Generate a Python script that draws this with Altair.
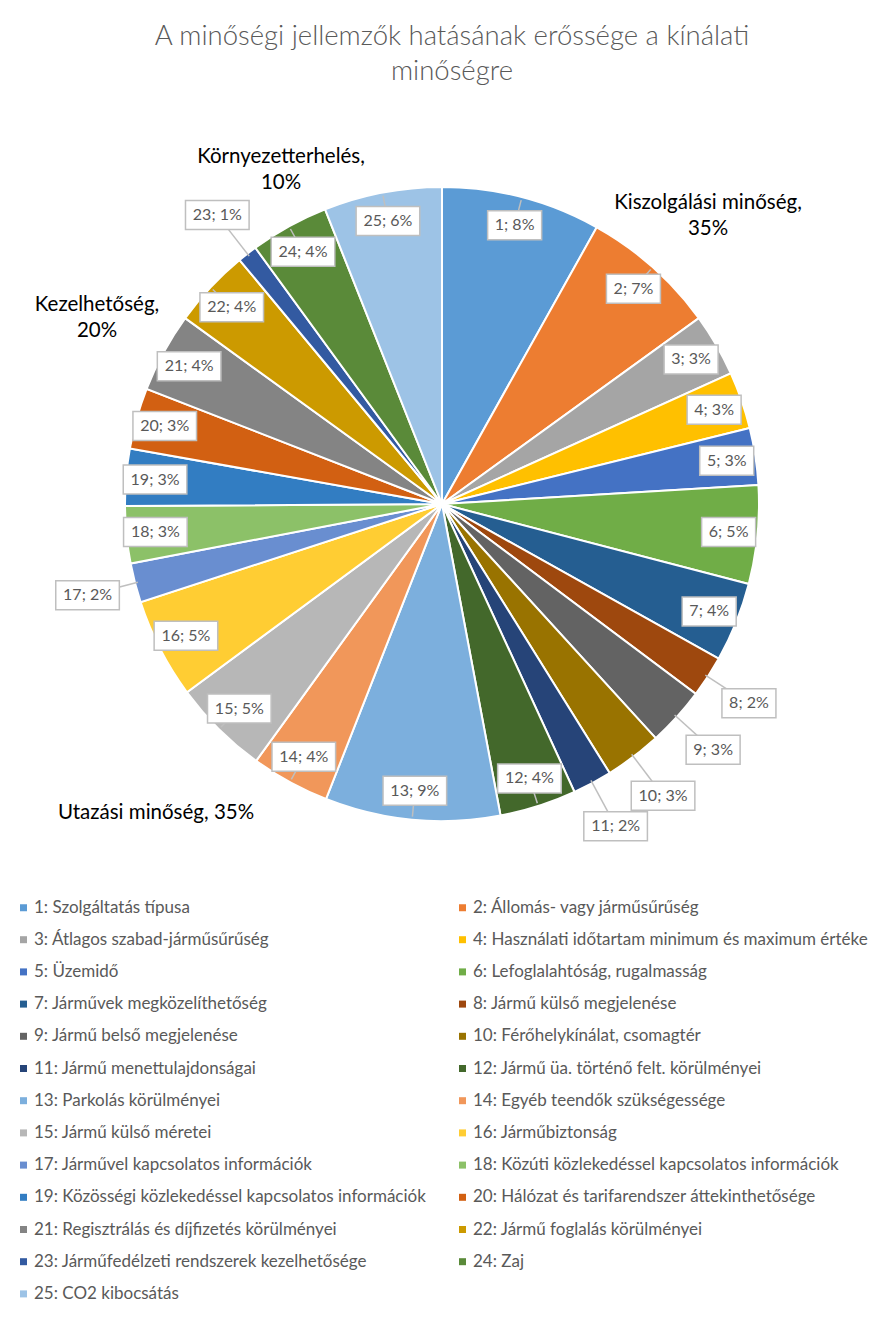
import altair as alt
import pandas as pd

ids = list(range(1, 26))
names = [
    "Szolgáltatás típusa", "Állomás- vagy járműsűrűség", "Átlagos szabad-járműsűrűség",
    "Használati időtartam minimum és maximum értéke", "Üzemidő", "Lefoglalahtóság, rugalmasság",
    "Járművek megközelíthetőség", "Jármű külső megjelenése", "Jármű belső megjelenése",
    "Férőhelykínálat, csomagtér", "Jármű menettulajdonságai", "Jármű üa. történő felt. körülményei",
    "Parkolás körülményei", "Egyéb teendők szükségessége", "Jármű külső méretei", "Járműbiztonság",
    "Járművel kapcsolatos információk", "Közúti közlekedéssel kapcsolatos információk",
    "Közösségi közlekedéssel kapcsolatos információk", "Hálózat és tarifarendszer áttekinthetősége",
    "Regisztrálás és díjfizetés körülményei", "Jármű foglalás körülményei",
    "Járműfedélzeti rendszerek kezelhetősége", "Zaj", "CO2 kibocsátás",
]
values = [8.1, 6.9, 3.2, 2.9, 2.9, 5.0, 4.05, 2.1, 3.0, 2.9, 2.0, 3.9, 8.9,
          4.0, 4.9, 5.1, 2.0, 2.9, 2.9, 3.1, 4.05, 4.0, 1.0, 4.0, 6.0]
colors = ["#5B9BD5", "#ED7D31", "#A5A5A5", "#FFC000", "#4472C4", "#70AD47", "#255E91",
          "#9E480E", "#636363", "#997300", "#264478", "#43682B", "#7CAFDD", "#F1975A",
          "#B7B7B7", "#FFCD33", "#698ED0", "#8CC168", "#327DC2", "#D26012", "#848484",
          "#CC9A00", "#335AA1", "#5A8A39", "#9DC3E6"]
outside_ids = [8, 9, 10, 11, 17, 23]

group_names = ["Kiszolgálási minőség", "Környezetterhelés", "Kezelhetőség", "Utazási minőség"]
group_shares = [35, 10, 20, 35]

title_lines = ["A minőségi jellemzők hatásának erőssége a kínálati", "minőségre"]

legend_labels = [f"{i}: {n}" for i, n in zip(ids, names)]
df = pd.DataFrame({"id": ids, "name": legend_labels, "value": values})
one = pd.DataFrame({"k": [0]})

W, H = 872, 1305
CX, CY, R = 434, 496, 317
R_IN, R_OUT = 288, 366
FONT = "Lato"
GREY = "#595959"

base = alt.Chart(df).transform_window(
    cum="sum(value)", sort=[{"field": "id"}], frame=[None, 0]
).transform_joinaggregate(total="sum(value)").transform_calculate(
    mid="(datum.cum - datum.value/2) / datum.total * 2 * PI",
    lr=f"indexof({outside_ids}, datum.id) >= 0 ? {R_OUT} : {R_IN}",
).transform_calculate(
    lx=f"{CX} + datum.lr * sin(datum.mid)",
    ly=f"{CY} - datum.lr * cos(datum.mid)",
    ex=f"{CX} + {R - 3} * sin(datum.mid)",
    ey=f"{CY} - {R - 3} * cos(datum.mid)",
    lbl="datum.id + '; ' + format(datum.value / datum.total * 100, '.0f') + '%'",
).transform_calculate(
    bw="length(datum.lbl) * 9.6 + 6",
).transform_calculate(
    bx1="datum.lx - datum.bw / 2",
    bx2="datum.lx + datum.bw / 2",
    by1="datum.ly - 14.5",
    by2="datum.ly + 14.5",
)

pie = alt.Chart(df).mark_arc(outerRadius=R, stroke="white", strokeWidth=2).encode(
    theta=alt.Theta("value:Q", stack=True),
    order=alt.Order("id:Q"),
    color=alt.Color(
        "name:N",
        scale=alt.Scale(domain=legend_labels, range=colors),
        sort=legend_labels,
        legend=alt.Legend(
            title=None, orient="none", legendX=7, legendY=891, columns=2,
            direction="horizontal",
            symbolType="square", symbolSize=49, symbolStrokeWidth=0,
            labelFont=FONT, labelFontSize=17, labelColor=GREY, labelLimit=600,
            rowPadding=14.2, columnPadding=28, gridAlign="each", labelOffset=2,
        ),
    ),
    x=alt.value(CX),
    y=alt.value(CY),
)

px = lambda f: alt.X(f, scale=None, axis=None)
py = lambda f: alt.Y(f, scale=None, axis=None)

leaders = base.mark_rule(color="#BFBFBF", strokeWidth=1.5).encode(
    x=px("lx:Q"), y=py("ly:Q"), x2="ex:Q", y2="ey:Q"
)
boxes = base.mark_rect(fill="white", stroke="#BFBFBF", strokeWidth=1.5).encode(
    x=px("bx1:Q"), x2="bx2:Q", y=py("by1:Q"), y2="by2:Q"
)
labels = base.mark_text(font=FONT, fontSize=16, color=GREY, baseline="middle", align="center").encode(
    x=px("lx:Q"), y=py("ly:Q"), text="lbl:N"
)

# title
title1 = alt.Chart(one).mark_text(font=FONT, fontSize=27.5, fontWeight=300, color=GREY,
                                  align="center", baseline="middle").encode(
    x=alt.value(444), y=alt.value(29), text=alt.value(title_lines[0]))
title2 = alt.Chart(one).mark_text(font=FONT, fontSize=27.5, fontWeight=300, color=GREY,
                                  align="center", baseline="middle").encode(
    x=alt.value(444), y=alt.value(64), text=alt.value(title_lines[1]))

# group annotations
group_layout = [(700, 195, True), (273, 149, True), (89, 297, True), (148, 805, False)]
group_layers = []
for name, share, (gx, gy, split) in zip(group_names, group_shares, group_layout):
    txt = [f"{name},", f"{share}%"] if split else f"{name}, {share}%"
    group_layers.append(
        alt.Chart(one).mark_text(font=FONT, fontSize=20.5, color="black", align="center",
                                 baseline="middle", lineHeight=26).encode(
            x=alt.value(gx), y=alt.value(gy), text=alt.value(txt))
    )

chart = alt.layer(pie, leaders, boxes, labels, title1, title2, *group_layers).properties(
    width=W, height=H, autosize=alt.AutoSizeParams(type="none"), padding=0
).configure_view(strokeWidth=0)

chart.save("out.html", embed_options={"renderer": "svg", "actions": False})
